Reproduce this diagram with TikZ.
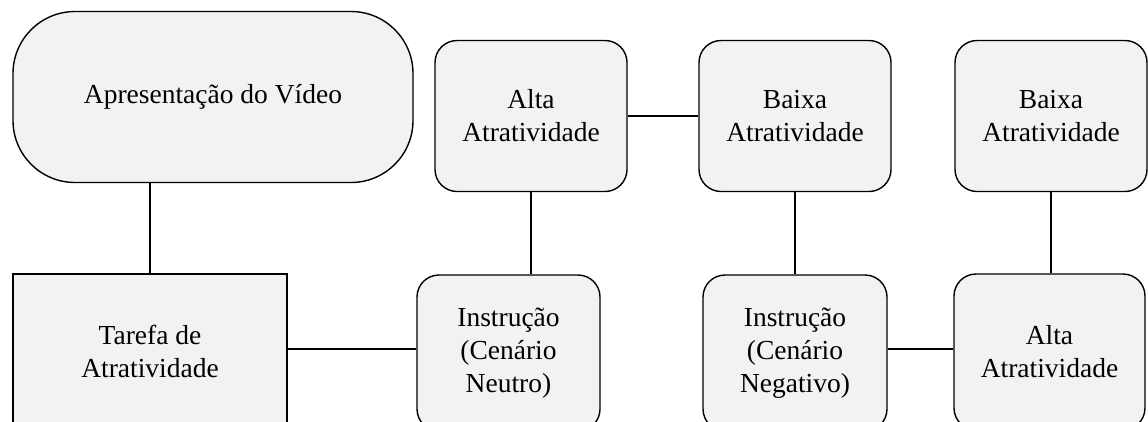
\documentclass[tikz,border=0pt]{standalone}
\usepackage{fontspec}
\setmainfont{Liberation Serif}
\usepackage{tikz}

\definecolor{boxgray}{HTML}{F2F2F2}

\begin{document}
\begin{tikzpicture}[x=1pt,y=-1pt,
	box/.style={draw=black, fill=boxgray, line width=1.4pt, align=center, inner sep=0pt,
		font=\fontsize{27.5}{33}\selectfont},
	roundbox/.style={box, rounded corners=22pt},
	link/.style={line width=1.4pt}]
	
	\useasboundingbox (0,0) rectangle (1148,421);
	
	\node[box, rounded corners=62pt, minimum width=400pt, minimum height=171pt] (video) at (213,97) {Apresentação do Vídeo};
	
	\node[box, minimum width=274pt, minimum height=154pt] (tarefa) at (150,351) {Tarefa de\\Atratividade};
	
	% top row
	\node[roundbox, minimum width=192pt, minimum height=151pt] (altaA) at (531,116) {Alta\\Atratividade};
	
	\node[roundbox, minimum width=192pt, minimum height=151pt] (baixaA) at (795,116) {Baixa\\Atratividade};
	
	\node[roundbox, minimum width=192pt, minimum height=151pt] (baixaB) at (1051,116) {Baixa\\Atratividade};
	
	% bottom row (cut off by the page edge)
	\node[roundbox, minimum width=183pt, minimum height=156pt] (instrN) at (508.5,353) {Instrução\\(Cenário\\Neutro)};
	
	\node[roundbox, minimum width=184pt, minimum height=156pt] (instrNeg) at (795,353) {Instrução\\(Cenário\\Negativo)};
	
	\node[roundbox, minimum width=191pt, minimum height=156pt] (altaB) at (1049.5,352) {Alta\\Atratividade};
	
	\coordinate (lowrow) at (0,349);
	
	% connections
	\draw[link] (tarefa.north |- video.south) -- (tarefa.north);
	
	\draw[link] (tarefa.east |- lowrow) -- (instrN.west |- lowrow);
	
	\draw[link] (altaA.east) -- (baixaA.west);
	
	\draw[link] (altaA.south) -- (altaA.south |- instrN.north);
	
	\draw[link] (baixaA.south) -- (instrNeg.north);
	
	\draw[link] (baixaB.south) -- (baixaB.south |- altaB.north);
	
	\draw[link] (instrNeg.east |- lowrow) -- (altaB.west |- lowrow);
	
\end{tikzpicture}
\end{document}
